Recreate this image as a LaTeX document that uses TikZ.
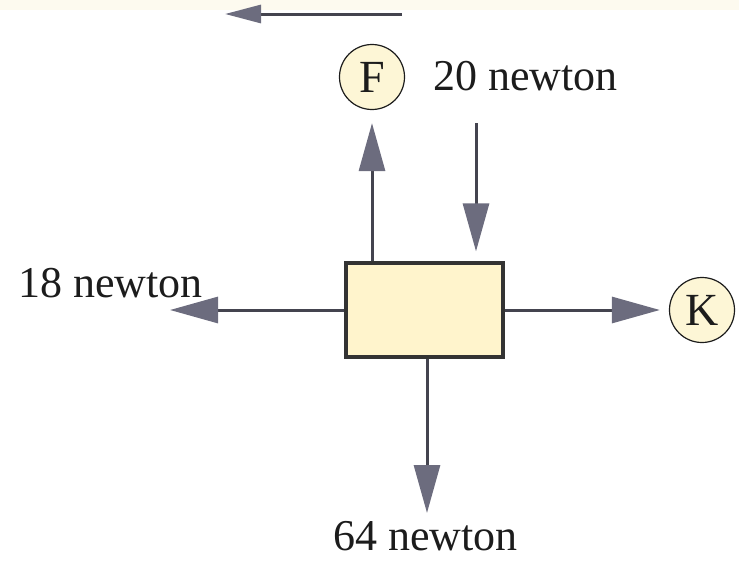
\documentclass[tikz,border=0pt]{standalone}
\usepackage{fontspec}
\setmainfont{Liberation Serif}
\usetikzlibrary{arrows.meta}
\definecolor{boxfill}{HTML}{FFF4CC}
\definecolor{circfill}{HTML}{FDF6D6}
\definecolor{inkc}{HTML}{1C1C1C}
\definecolor{linec}{HTML}{44444F}
\definecolor{headc}{HTML}{6C6C7E}
\definecolor{topband}{HTML}{FDFAEF}
\tikzset{
  px/.style={x=0.5pt,y=-0.5pt},
  label text/.style={inner sep=0pt,text=inkc,font=\fontsize{22}{26}\selectfont},
  forcebox/.style={draw=inkc!90,line width=1.6pt,fill=boxfill,minimum width=78.5pt,minimum height=47pt,inner sep=0pt},
  letter/.style={circle,draw=inkc,line width=0.6pt,fill=circfill,minimum size=32.5pt,inner sep=0pt,text=inkc,font=\fontsize{23}{27}\selectfont},
  force/.style={draw=linec,line width=1.5pt,-{Triangle[length=24pt,width=13pt,fill=headc,color=headc]}},
  smallforce/.style={draw=linec,line width=1.5pt,-{Triangle[length=18pt,width=9pt,fill=headc,color=headc]}}
}
\begin{document}
\begin{tikzpicture}[px]
\useasboundingbox (0,0) rectangle (739,573);
\fill[topband] (0,0) rectangle (739,10);
% box and circles
\node[forcebox] (box) at (424.5,310) {};
\node[letter] (F) at (372,77) {F};
\node[letter] (K) at (702,310) {K};
% labels
\node[label text,anchor=base west] (t20) at (433,90) {20 newton};
\node[label text,anchor=base west] (t18) at (18,297) {18 newton};
\node[label text,anchor=base west] (t64) at (333,550) {64 newton};
% free ends
\coordinate (topS) at (402,14);
\coordinate (topE) at (225,14);
\coordinate (leftE) at (170,310);
\coordinate (downE) at (427,513);
\coordinate (inS) at (476,123);
% arrows
\draw[smallforce] (topS) -- (topE);
\draw[force,shorten >=6.5pt] ([xshift=-26.25pt]box.north) -- (F.south);
\draw[force,shorten >=5pt] (inS) -- ([xshift=25.75pt]box.north);
\draw[force] (box.west) -- (leftE);
\draw[force,shorten >=4.5pt] (box.east) -- (K.west);
\draw[force] ([xshift=1.25pt]box.south) -- (downE);
\end{tikzpicture}
\end{document}
